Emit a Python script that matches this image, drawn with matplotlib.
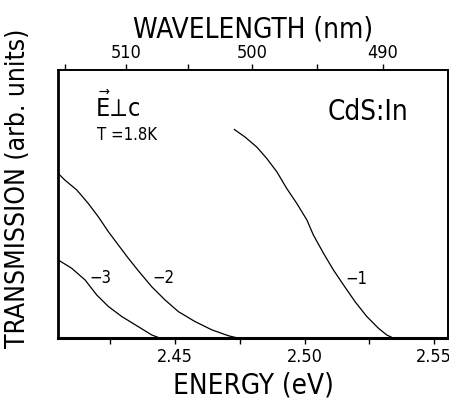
import numpy as np
import matplotlib
matplotlib.use("Agg")
import matplotlib.pyplot as plt

# Transmission edges of CdS:In, E perpendicular to c, T = 1.8 K
# (energy in eV, transmission in arb. units)
energy_1 = [2.4729, 2.4770, 2.4815, 2.4854, 2.4893, 2.4931, 2.4970, 2.5009, 2.5034,
            2.5073, 2.5111, 2.5150, 2.5195, 2.5240, 2.5285, 2.5317, 2.5343]
trans_1 = [0.779, 0.751, 0.714, 0.671, 0.621, 0.559, 0.503, 0.441, 0.385,
           0.317, 0.255, 0.199, 0.136, 0.081, 0.037, 0.012, 0.0]

energy_2 = [2.4049, 2.4075, 2.4121, 2.4165, 2.4204, 2.4243, 2.4281, 2.4320, 2.4358,
            2.4410, 2.4461, 2.4513, 2.4577, 2.4642, 2.4706, 2.4744]
trans_2 = [0.615, 0.590, 0.553, 0.503, 0.453, 0.397, 0.348, 0.298, 0.252,
           0.192, 0.143, 0.099, 0.062, 0.031, 0.009, 0.0]

energy_3 = [2.4049, 2.4101, 2.4153, 2.4198, 2.4243, 2.4294, 2.4358, 2.4410, 2.4442]
trans_3 = [0.292, 0.261, 0.217, 0.161, 0.118, 0.081, 0.043, 0.012, 0.0]

curve_labels = ["\u22121", "\u22122", "\u22123"]
label_pos = [(2.5199, 0.221), (2.4454, 0.225), (2.4210, 0.225)]

energy_ticks = [2.45, 2.50, 2.55]
energy_minor = [2.425, 2.475, 2.525]
wl_ticks = [510, 500, 490]
wl_minor = [515, 505, 495]
HC = 1239.84  # eV nm

plt.rcParams['font.family'] = ['DejaVu Sans']
plt.rcParams['font.stretch'] = 'condensed'
plt.rcParams['mathtext.fontset'] = 'dejavusans'

fig = plt.figure(figsize=(4.49, 4.04), dpi=100)
ax = fig.add_axes((0.129, 0.163, 0.869, 0.663))

for e, t in [(energy_1, trans_1), (energy_2, trans_2), (energy_3, trans_3)]:
    ax.plot(e, t, color='black', lw=0.9, solid_joinstyle='round')

for lab, (x, y) in zip(curve_labels, label_pos):
    ax.text(x, y, lab, fontsize=12, ha='center', va='center')

ax.set_xlim(2.4048, 2.5554)
ax.set_ylim(0, 1.0)
ax.set_yticks([])
ax.set_xticks(energy_ticks)
ax.set_xticklabels(["2.45", "2.50", "2.55"])
ax.set_xticks(energy_minor, minor=True)
ax.tick_params(axis='x', which='both', direction='out', length=4, width=1, labelsize=13, pad=3)
ax.set_xlabel("ENERGY (eV)", fontsize=20, labelpad=4)
ax.set_ylabel("TRANSMISSION (arb. units)", fontsize=19)
ax.yaxis.set_label_coords(-0.068, 0.56)

ax.spines['bottom'].set_linewidth(2.2)
ax.spines['left'].set_linewidth(2.0)
ax.spines['top'].set_linewidth(1.4)
ax.spines['right'].set_linewidth(1.4)

top = ax.secondary_xaxis('top', functions=(lambda e: HC / np.asarray(e), lambda w: HC / np.asarray(w)))
top.set_xticks(wl_ticks)
top.set_xticklabels([str(w) for w in wl_ticks])
top.set_xticks(wl_minor, minor=True)
top.tick_params(axis='x', which='both', direction='out', length=4, width=1, labelsize=13, pad=2)
top.set_xlabel("WAVELENGTH (nm)", fontsize=20, labelpad=5)
top.spines['top'].set_visible(False)

ax.text(0.095, 0.825, r"$\vec{\mathrm{E}}\!\perp\!\mathrm{c}$", transform=ax.transAxes,
        fontsize=18, ha='left', va='baseline')
ax.text(0.10, 0.74, "T =1.8K", transform=ax.transAxes, fontsize=12, ha='left', va='baseline')
ax.text(0.692, 0.813, "CdS:In", transform=ax.transAxes, fontsize=20, ha='left', va='baseline')

fig.savefig("out.png", dpi=100)
